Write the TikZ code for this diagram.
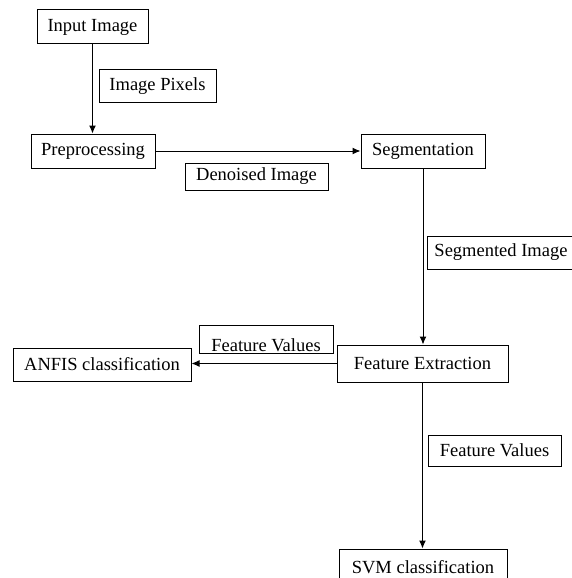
\documentclass[tikz,border=0pt]{standalone}
\usepackage{fontspec}
\setmainfont{Liberation Serif}
\usepackage{tikz}
\usetikzlibrary{arrows.meta,positioning}
\newcommand\boxfont{\fontsize{18.5}{22}\selectfont}

\begin{document}
\begin{tikzpicture}[x=1pt,y=-1pt,>={Latex[length=8pt,width=7pt]},
    box/.style={draw,line width=1pt,inner sep=0pt,font=\boxfont},
    sz/.style 2 args={minimum width=#1pt,minimum height=#2pt},
    cut/.style={path picture={\node[font=\boxfont,inner sep=0pt]
        at ([yshift=-6.5pt]path picture bounding box.center) {#1};}}]
    \useasboundingbox (0,0) rectangle (571,578);
    \node[box,sz={111}{34}] (input) at (92.5,27) {Input Image};
    \node[box,sz={117}{32}] (pixels) at (157.5,86) {Image Pixels};
    \node[box,sz={124}{34}] (prep) at (93,151) {Preprocessing};
    \node[box,sz={143}{27}] (denoised) at (256.5,176.5) {Denoised Image};
    \node[box,sz={124}{34}] (seg) at (423,151) {Segmentation};
    \node[box,sz={148}{33}] (segimg) at (501,252.5) {Segmented Image};
    \node[box,sz={134}{28},cut=Feature Values] (fvals) at (266,339) {};
    \node[box,sz={178}{33}] (anfis) at (102,364.5) {ANFIS classification};
    \node[box,sz={171}{37}] (fext) at (422.5,363.5) {Feature Extraction};
    \node[box,sz={133}{31}] (fvalsb) at (494.5,450.5) {Feature Values};
    \node[box,sz={168}{37}] (svm) at (423,567.5) {SVM classification};
    % connectors
    \draw[->,line width=1pt] (input) -- (input |- prep.north);
    \draw[->,line width=1pt] (prep) -- (prep -| seg.west);
    \draw[->,line width=1pt] (seg) -- (seg |- fext.north);
    \draw[->,line width=1pt] (fext) -- (fext -| anfis.east);
    \draw[->,line width=1pt] (fext) -- (fext |- svm.north);
\end{tikzpicture}
\end{document}
